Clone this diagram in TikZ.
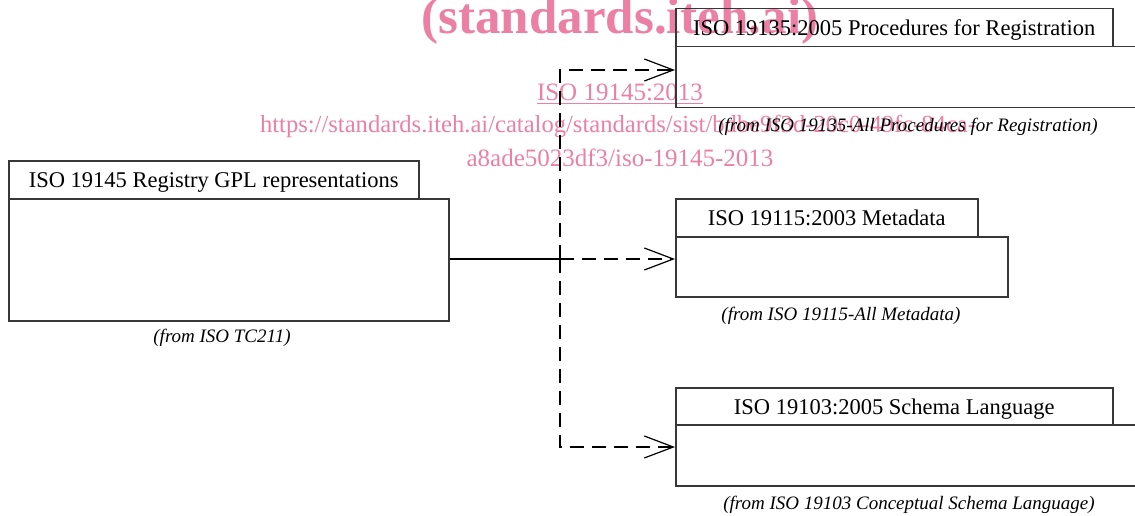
\documentclass[tikz,border=0pt]{standalone}
\usepackage{fontspec}
\setmainfont{Liberation Serif}
\usetikzlibrary{arrows.meta}
\definecolor{wmc}{RGB}{236,128,164}
\definecolor{boxline}{RGB}{55,55,55}
\begin{document}
\begin{tikzpicture}[x=1pt,y=-1pt,
  tab/.style={draw=boxline,line width=1.5pt,inner sep=0pt,anchor=north west,
    text height=16pt,text depth=0pt,
    font=\fontsize{22.5}{25}\selectfont},
  body/.style={draw=boxline,line width=1.5pt,inner sep=0pt,anchor=north west},
  captext/.style={inner sep=0pt,font=\fontsize{19}{21}\selectfont\itshape},
  conn/.style={line width=1.2pt,black},
  dep/.style={conn,dash pattern=on 14pt off 8pt,-{Straight Barb[length=29pt,width=22pt,line width=1.2pt]}},
  wm/.style={text=wmc,inner sep=0pt,anchor=base}]
\useasboundingbox (0,0) rectangle (1135,516);
% watermark
\node[wm,font=\fontsize{51}{56}\selectfont\bfseries] (wm1) at (620,34) {(standards.iteh.ai)};
\node[wm,font=\fontsize{25}{28}\selectfont] (wm2) at (620,101) {ISO 19145:2013};
\draw[wmc,line width=1.2pt] ([yshift=-2.5pt]wm2.base west) -- ([yshift=-2.5pt]wm2.base east);
\node[wm,font=\fontsize{24.6}{28}\selectfont] (wm3) at (618,133) {https://standards.iteh.ai/catalog/standards/sist/bdbe9f3d-20c0-49fc-84ca-};
\node[wm,font=\fontsize{25}{28}\selectfont] (wm4) at (620,166) {a8ade5023df3/iso-19145-2013};
% package 1
\node[tab,minimum width=410pt,minimum height=38pt] (t1) at (8,160) {ISO 19145 Registry GPL representations};
\node[body,minimum width=440pt,minimum height=122pt] (b1) at (8,198) {};
\node[captext] (c1) at (222,338) {(from ISO TC211)};
% package 2
\node[tab,minimum width=437pt,minimum height=38pt] (t2) at (675,8) {ISO 19135:2005 Procedures for Registration};
\node[body,minimum width=480pt,minimum height=61pt] (b2) at (675,46) {};
\node[captext] (c2) at (908,127) {(from ISO 19135-All Procedures for Registration)};
% package 3
\node[tab,minimum width=302pt,minimum height=38pt] (t3) at (675,198) {ISO 19115:2003 Metadata};
\node[body,minimum width=332pt,minimum height=60pt] (b3) at (675,236) {};
\node[captext] (c3) at (841,316) {(from ISO 19115-All Metadata)};
% package 4
\node[tab,minimum width=437pt,minimum height=37pt] (t4) at (675,387) {ISO 19103:2005 Schema Language};
\node[body,minimum width=480pt,minimum height=61pt] (b4) at (675,424) {};
\node[captext] (c4) at (909,505) {(from ISO 19103 Conceptual Schema Language)};
% connectors
\coordinate (jt) at (560,70);
\coordinate (jm) at (560,259);
\coordinate (jb) at (560,447);
\draw[conn] (b1.east |- jm) -- (jm);
\draw[dep] (jm) -- (b3.west |- jm);
\draw[dep] (jm) -- (jt) -- (b2.west |- jt);
\draw[dep] (jm) -- (jb) -- (b4.west |- jb);
\end{tikzpicture}
\end{document}
